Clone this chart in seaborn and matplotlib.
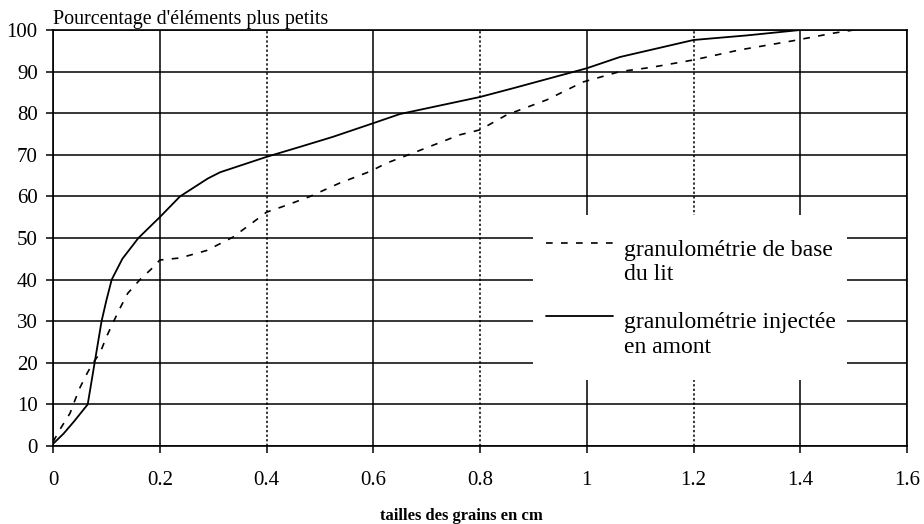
import matplotlib
matplotlib.use("Agg")
import matplotlib.pyplot as plt
from matplotlib.patches import Rectangle
from matplotlib.legend_handler import HandlerLine2D
import seaborn as sns

# ---- data ----
x_base = [0.0, 0.016, 0.032, 0.039, 0.05, 0.064, 0.075, 0.088, 0.10, 0.112, 0.125, 0.14,
          0.163, 0.188, 0.20, 0.238, 0.288, 0.337, 0.375, 0.40, 0.438, 0.48, 0.537,
          0.594, 0.625, 0.68, 0.762, 0.80, 0.85, 0.925, 0.993, 1.062, 1.12, 1.2,
          1.286, 1.386, 1.46, 1.50]
y_base = [1.0, 4.6, 7.9, 10.3, 13.9, 17.5, 20.0, 22.3, 26.2, 29.5, 33.0, 36.7,
          40.0, 43.0, 44.7, 45.2, 47.0, 50.2, 53.8, 56.2, 57.9, 59.9, 63.2,
          66.0, 68.0, 70.7, 74.8, 76.0, 79.6, 83.2, 87.5, 90.0, 91.0, 92.8,
          95.2, 97.4, 99.2, 100.0]

x_inj = [0.0, 0.02, 0.04, 0.065, 0.078, 0.091, 0.10, 0.110, 0.13, 0.160, 0.20,
         0.238, 0.29, 0.313, 0.40, 0.4625, 0.524, 0.60, 0.65, 0.80, 0.862, 1.0,
         1.062, 1.2, 1.3, 1.4]
y_inj = [0.5, 3.0, 6.0, 10.0, 20.0, 30.0, 35.0, 40.0, 45.0, 50.0, 55.0,
         60.0, 64.3, 65.8, 69.5, 71.9, 74.3, 77.6, 79.8, 83.9, 86.0, 90.8,
         93.5, 97.6, 98.7, 100.0]

x_ticks = [0, 0.2, 0.4, 0.6, 0.8, 1.0, 1.2, 1.4, 1.6]
x_tick_labels = ["0", "0.2", "0.4", "0.6", "0.8", "1", "1.2", "1.4", "1.6"]
y_ticks = [0, 10, 20, 30, 40, 50, 60, 70, 80, 90, 100]
y_tick_labels = ["0", "10", "20", "30", "40", "50", "60", "70", "80", "90", "100"]

label_base = "granulométrie de base\ndu lit"
label_inj = "granulométrie injectée\nen amont"
title_text = "Pourcentage d'éléments plus petits"
xlabel_text = "tailles des grains en cm"

# ---- style ----
sns.set_theme(style="ticks")
plt.rcParams["font.family"] = ["Liberation Serif", "DejaVu Serif"]

W, H = 924, 524
L, R, T, B = 53, 907, 30, 446
fig, ax = plt.subplots(figsize=(W / 100, H / 100), dpi=100)
fig.subplots_adjust(left=L / W, right=R / W, top=1 - T / H, bottom=1 - B / H)


def ax_x(px):
    return (px - L) / (R - L)


def ax_y(py):
    return (B - py) / (B - T)


sns.lineplot(x=x_base, y=y_base, ax=ax, color="black", linewidth=1.2,
             linestyle=(0, (4, 5)), label=label_base, sort=False, estimator=None)
sns.lineplot(x=x_inj, y=y_inj, ax=ax, color="black", linewidth=1.3,
             label=label_inj, sort=False, estimator=None)

ax.set_xlim(0, 1.6)
ax.set_ylim(0, 100)
ax.set_xticks(x_ticks)
ax.set_xticklabels(x_tick_labels)
ax.set_yticks(y_ticks)
ax.set_yticklabels(y_tick_labels)

ax.grid(True, color="black", linewidth=1.1)
for i, gl in enumerate(ax.get_xgridlines()):
    if i in (2, 4, 6):
        gl.set_linestyle((0, (1.5, 1.5)))
ax.set_axisbelow(True)

for sp in ax.spines.values():
    sp.set_visible(True)
    sp.set_color("black")
    sp.set_linewidth(1.2)

ax.tick_params(axis="both", direction="out", length=5, width=1.1, color="black",
               labelsize=15, labelcolor="black")
ax.tick_params(axis="x", pad=13)
ax.tick_params(axis="y", pad=6)

ax.set_title(title_text, loc="left", fontsize=14.4, pad=4, color="black")
ax.set_xlabel(xlabel_text, fontsize=12, fontweight="bold", labelpad=13,
              color="black", x=ax_x(461))
ax.set_ylabel("")

# white area behind the legend (hides the grid there)
ax.add_patch(Rectangle((ax_x(533), ax_y(380)), ax_x(847) - ax_x(533), ax_y(215) - ax_y(380),
                       transform=ax.transAxes, facecolor="white", edgecolor="none",
                       zorder=3))


class TopLineHandler(HandlerLine2D):
    """Put the legend sample level with the first text line."""
    def create_artists(self, legend, orig_handle, xdescent, ydescent, width, height,
                       fontsize, trans):
        arts = super().create_artists(legend, orig_handle, xdescent, ydescent, width,
                                      height, fontsize, trans)
        for a in arts:
            yd = a.get_ydata()
            a.set_ydata([y + 0.8 * fontsize for y in yd])
        return arts


handles, labels = ax.get_legend_handles_labels()
leg = ax.legend(handles, labels, loc="upper left",
                bbox_to_anchor=(ax_x(546), ax_y(240)),
                frameon=False, fontsize=17, handlelength=2.85, handletextpad=0.45,
                labelspacing=1.15, borderpad=0, borderaxespad=0,
                handler_map={h: TopLineHandler() for h in handles})
leg.set_zorder(4)
for t in leg.get_texts():
    t.set_color("black")

fig.savefig("out.png", dpi=100)
